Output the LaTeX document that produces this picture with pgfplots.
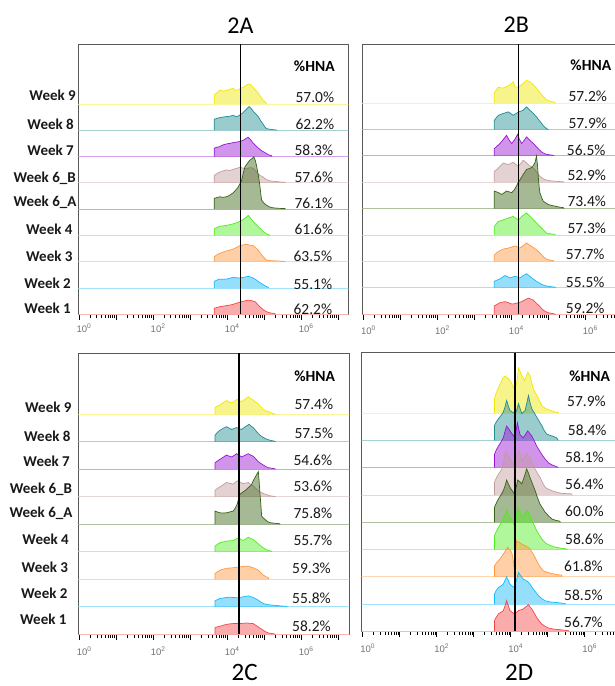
\documentclass[border=0pt]{standalone}
\usepackage{fontspec}
\setmainfont{Carlito}
\newfontfamily\arialf{Liberation Sans}
\usepackage{pgfplots}
\pgfplotsset{compat=1.18}
\definecolor{c9}{RGB}{240,230,0}
\definecolor{c8}{RGB}{30,140,145}
\definecolor{c7}{RGB}{150,20,210}
\definecolor{c6b}{RGB}{195,155,155}
\definecolor{c6a}{RGB}{55,100,20}
\definecolor{c4}{RGB}{80,235,30}
\definecolor{c3}{RGB}{255,150,60}
\definecolor{c2}{RGB}{20,185,250}
\definecolor{c1}{RGB}{245,70,70}
\newcommand{\hist}[3]{\addplot[draw=#1, line width=0.7pt, fill=#1, fill opacity=0.45] table[row sep=\\, y expr=\thisrow{h}+#2] {x h\\ #3\\};}
\newcommand{\base}[2]{\addplot[#1!40, line width=0.9pt] coordinates {(-1,#2) (9,#2)};}
\newcommand{\allbases}{\base{c9}{8}\base{c8}{7}\base{c7}{6}\base{c6b}{5}\base{c6a}{4}\base{c4}{3}\base{c3}{2}\base{c2}{1}\base{c1}{0}}
\pgfplotsset{
  panel/.style={
    scale only axis, anchor=south west, ymin=0,
    axis line style={draw=black!65, line width=0.8pt},
    xtick={0,2,4,6},
    xticklabels={10\textsuperscript{0},10\textsuperscript{2},10\textsuperscript{4},10\textsuperscript{6}},
    extra x ticks={1,3,5,7}, extra x tick labels={},
    minor xtick={0.301,0.477,0.602,0.699,0.778,0.845,0.903,0.954,
      1.301,1.477,1.602,1.699,1.778,1.845,1.903,1.954,
      2.301,2.477,2.602,2.699,2.778,2.845,2.903,2.954,
      3.301,3.477,3.602,3.699,3.778,3.845,3.903,3.954,
      4.301,4.477,4.602,4.699,4.778,4.845,4.903,4.954,
      5.301,5.477,5.602,5.699,5.778,5.845,5.903,5.954,
      6.301,6.477,6.602,6.699,6.778,6.845,6.903,6.954},
    xtick pos=bottom, ytick=\empty, tick align=outside,
    major tick length=5.5pt, minor tick length=3.5pt,
    tick style={draw=black, line width=0.9pt},
    minor tick style={draw=black, line width=0.7pt},
    xticklabel style={font=\arialf\fontsize{9.5}{10}\selectfont, text=black!55, anchor=base, xshift=5pt},
  }
}
\begin{document}
\begin{tikzpicture}
\path[use as bounding box] (0pt,0pt) rectangle (614pt,-686pt);
% ---------------- 2A
\begin{axis}[panel, at={(78.3pt,-314.3pt)}, width=270pt, height=270.3pt,
  xmin=-0.02, xmax=7.27, ymax=10.28, xticklabel style={yshift=-13pt}]
\allbases
\hist{c9}{8}{3.65 0\\3.65 0.34\\3.72 0.42\\3.80 0.53\\3.88 0.49\\3.98 0.51\\4.07 0.56\\4.16 0.59\\4.23 0.52\\4.30 0.53\\4.36 0.60\\4.43 0.63\\4.50 0.70\\4.57 0.76\\4.61 0.75\\4.66 0.70\\4.70 0.63\\4.77 0.52\\4.84 0.41\\4.90 0.28\\4.97 0.15\\5.02 0.08\\5.06 0.03\\5.07 0}
\hist{c8}{7}{3.65 0\\3.65 0.42\\3.72 0.45\\3.80 0.48\\3.88 0.50\\3.98 0.52\\4.07 0.53\\4.16 0.57\\4.23 0.52\\4.30 0.54\\4.36 0.60\\4.43 0.67\\4.52 0.80\\4.59 0.90\\4.64 0.84\\4.70 0.73\\4.77 0.62\\4.84 0.52\\4.90 0.37\\4.97 0.23\\5.02 0.12\\5.06 0.06\\5.15 0.04\\5.25 0.02\\5.33 0.01\\5.34 0}
\hist{c7}{6}{3.65 0\\3.65 0.32\\3.72 0.35\\3.80 0.38\\3.88 0.44\\3.98 0.48\\4.07 0.50\\4.16 0.53\\4.25 0.55\\4.34 0.57\\4.45 0.63\\4.52 0.70\\4.57 0.73\\4.63 0.64\\4.70 0.51\\4.77 0.42\\4.84 0.32\\4.93 0.22\\5.02 0.15\\5.11 0.07\\5.20 0.03\\5.21 0}
\hist{c6b}{5}{3.65 0\\3.65 0.28\\3.72 0.35\\3.80 0.41\\3.88 0.45\\3.98 0.49\\4.07 0.47\\4.16 0.51\\4.25 0.55\\4.34 0.59\\4.43 0.56\\4.52 0.53\\4.61 0.58\\4.70 0.56\\4.77 0.45\\4.84 0.34\\4.90 0.27\\4.97 0.22\\5.04 0.14\\5.11 0.09\\5.22 0.06\\5.33 0.05\\5.45 0.03\\5.56 0.02\\5.57 0}
\hist{c6a}{4}{3.65 0\\3.65 0.41\\3.72 0.44\\3.80 0.47\\3.88 0.45\\3.98 0.47\\4.07 0.53\\4.16 0.62\\4.23 0.72\\4.30 0.85\\4.35 0.98\\4.39 1.10\\4.44 1.40\\4.48 1.61\\4.55 1.75\\4.61 1.86\\4.67 1.92\\4.72 1.99\\4.76 1.85\\4.79 1.67\\4.84 1.30\\4.88 0.91\\4.91 0.55\\4.93 0.34\\5.00 0.22\\5.06 0.15\\5.15 0.08\\5.24 0.05\\5.40 0.03\\5.56 0.02\\5.57 0}
\hist{c4}{3}{3.65 0\\3.65 0.25\\3.72 0.30\\3.80 0.35\\3.88 0.36\\3.98 0.38\\4.07 0.41\\4.16 0.44\\4.25 0.48\\4.34 0.53\\4.45 0.62\\4.52 0.70\\4.57 0.76\\4.63 0.65\\4.70 0.53\\4.79 0.40\\4.88 0.28\\4.97 0.15\\5.06 0.06\\5.15 0.01\\5.16 0}
\hist{c3}{2}{3.65 0\\3.65 0.19\\3.72 0.26\\3.80 0.32\\3.88 0.36\\3.98 0.41\\4.07 0.44\\4.16 0.48\\4.25 0.54\\4.34 0.61\\4.43 0.64\\4.52 0.66\\4.61 0.63\\4.70 0.61\\4.77 0.53\\4.84 0.44\\4.90 0.32\\4.97 0.19\\5.06 0.06\\5.15 0.04\\5.33 0.03\\5.45 0.02\\5.56 0.01\\5.57 0}
\hist{c2}{1}{3.65 0\\3.65 0.25\\3.72 0.30\\3.80 0.34\\3.88 0.33\\3.98 0.34\\4.07 0.37\\4.16 0.41\\4.25 0.39\\4.34 0.38\\4.45 0.41\\4.57 0.44\\4.63 0.42\\4.70 0.38\\4.77 0.32\\4.84 0.25\\4.90 0.19\\4.97 0.13\\5.04 0.07\\5.11 0.03\\5.12 0}
\hist{c1}{0}{3.65 0\\3.65 0.23\\3.72 0.26\\3.80 0.29\\3.88 0.31\\3.98 0.33\\4.07 0.35\\4.16 0.38\\4.25 0.42\\4.34 0.46\\4.45 0.50\\4.57 0.54\\4.66 0.52\\4.75 0.48\\4.82 0.38\\4.88 0.29\\4.97 0.18\\5.06 0.10\\5.17 0.05\\5.29 0.03\\5.30 0}
\addplot[black, line width=1.4pt] coordinates {(4.36,0) (4.36,10.28)};
\end{axis}
% ---------------- 2B
\begin{axis}[panel, at={(362.3pt,-314.3pt)}, width=270pt, height=270pt,
  xmin=-0.03, xmax=7.27, ymax=10.23, xticklabel style={yshift=-15pt}]
\allbases
\hist{c9}{8}{3.54 0\\3.54 0.38\\3.60 0.52\\3.65 0.61\\3.72 0.58\\3.78 0.57\\3.85 0.62\\3.92 0.66\\3.99 0.72\\4.05 0.82\\4.10 0.61\\4.15 0.60\\4.19 0.61\\4.28 0.70\\4.35 0.78\\4.41 0.86\\4.48 0.82\\4.55 0.76\\4.62 0.66\\4.68 0.57\\4.75 0.44\\4.82 0.32\\4.88 0.22\\4.95 0.13\\5.05 0.07\\5.18 0.03\\5.19 0}
\hist{c8}{7}{3.54 0\\3.54 0.35\\3.60 0.46\\3.65 0.54\\3.72 0.58\\3.78 0.61\\3.85 0.64\\3.92 0.67\\3.99 0.60\\4.05 0.54\\4.12 0.60\\4.19 0.67\\4.26 0.70\\4.32 0.73\\4.37 0.80\\4.41 0.86\\4.48 0.76\\4.55 0.67\\4.62 0.57\\4.68 0.48\\4.75 0.35\\4.82 0.23\\4.88 0.12\\4.95 0.04\\5.00 0}
\hist{c7}{6}{3.54 0\\3.54 0.28\\3.62 0.38\\3.69 0.47\\3.78 0.62\\3.87 0.78\\3.94 0.60\\4.01 0.47\\4.09 0.62\\4.17 0.82\\4.22 0.62\\4.28 0.47\\4.35 0.60\\4.41 0.72\\4.48 0.62\\4.55 0.53\\4.62 0.44\\4.68 0.34\\4.75 0.24\\4.82 0.15\\4.88 0.10\\4.95 0.06\\5.05 0.04\\5.14 0.02\\5.15 0}
\hist{c6b}{5}{3.54 0\\3.54 0.42\\3.60 0.48\\3.65 0.54\\3.72 0.64\\3.78 0.73\\3.85 0.70\\3.92 0.67\\3.99 0.72\\4.05 0.76\\4.12 0.68\\4.19 0.61\\4.26 0.72\\4.32 0.84\\4.39 0.76\\4.46 0.67\\4.55 0.58\\4.64 0.48\\4.70 0.35\\4.77 0.23\\4.84 0.15\\4.91 0.10\\5.05 0.06\\5.18 0.04\\5.30 0.03\\5.41 0.02\\5.42 0}
\hist{c6a}{4}{3.54 0\\3.54 0.67\\3.60 0.64\\3.65 0.61\\3.70 0.57\\3.74 0.54\\3.80 0.60\\3.87 0.67\\3.94 0.64\\4.01 0.61\\4.08 0.72\\4.14 0.86\\4.18 0.98\\4.21 1.05\\4.27 1.18\\4.32 1.30\\4.37 1.40\\4.41 1.49\\4.48 1.52\\4.55 1.56\\4.60 1.65\\4.64 1.75\\4.68 2.00\\4.71 1.60\\4.73 1.18\\4.75 0.85\\4.77 0.61\\4.82 0.42\\4.86 0.29\\4.93 0.22\\5.00 0.16\\5.10 0.12\\5.18 0.10\\5.30 0.06\\5.41 0.04\\5.42 0}
\hist{c4}{3}{3.54 0\\3.54 0.33\\3.60 0.44\\3.65 0.52\\3.72 0.55\\3.78 0.58\\3.85 0.61\\3.92 0.65\\3.99 0.68\\4.05 0.71\\4.12 0.64\\4.19 0.58\\4.24 0.64\\4.28 0.71\\4.35 0.78\\4.41 0.84\\4.48 0.75\\4.55 0.65\\4.62 0.55\\4.68 0.46\\4.75 0.36\\4.82 0.27\\4.88 0.17\\4.95 0.08\\5.05 0.05\\5.18 0.03\\5.19 0}
\hist{c3}{2}{3.54 0\\3.54 0.25\\3.60 0.32\\3.65 0.38\\3.72 0.43\\3.78 0.47\\3.85 0.49\\3.92 0.51\\4.01 0.55\\4.10 0.59\\4.17 0.55\\4.23 0.51\\4.32 0.60\\4.41 0.70\\4.48 0.63\\4.55 0.57\\4.62 0.50\\4.68 0.44\\4.75 0.35\\4.82 0.25\\4.88 0.16\\4.95 0.09\\5.05 0.05\\5.14 0.03\\5.15 0}
\hist{c2}{1}{3.54 0\\3.54 0.25\\3.62 0.30\\3.69 0.34\\3.76 0.41\\3.83 0.47\\3.90 0.42\\3.96 0.38\\4.03 0.41\\4.10 0.44\\4.17 0.41\\4.23 0.38\\4.32 0.46\\4.41 0.54\\4.48 0.46\\4.55 0.38\\4.62 0.31\\4.68 0.25\\4.75 0.19\\4.82 0.13\\4.91 0.09\\5.00 0.06\\5.10 0.04\\5.18 0.03\\5.19 0}
\hist{c1}{0}{3.54 0\\3.54 0.32\\3.62 0.38\\3.69 0.44\\3.76 0.46\\3.83 0.48\\3.92 0.44\\4.01 0.39\\4.08 0.40\\4.14 0.42\\4.21 0.45\\4.28 0.48\\4.37 0.55\\4.46 0.61\\4.52 0.58\\4.59 0.54\\4.66 0.44\\4.73 0.35\\4.80 0.25\\4.86 0.16\\4.93 0.10\\5.00 0.06\\5.10 0.03\\5.18 0.01\\5.19 0}
\addplot[black, line width=1.4pt] coordinates {(4.19,0) (4.19,10.23)};
\end{axis}
% ---------------- 2C
\begin{axis}[panel, at={(78.3pt,-634.3pt)}, width=271pt, height=281pt,
  xmin=-0.027, xmax=7.30, ymax=10.22, xticklabel style={yshift=-16pt}]
\allbases
\hist{c9}{8}{3.67 0\\3.67 0.25\\3.73 0.30\\3.80 0.34\\3.89 0.42\\3.98 0.50\\4.05 0.46\\4.12 0.42\\4.20 0.48\\4.27 0.55\\4.33 0.50\\4.39 0.46\\4.48 0.55\\4.57 0.64\\4.63 0.58\\4.70 0.52\\4.77 0.45\\4.84 0.38\\4.90 0.28\\4.97 0.18\\5.04 0.13\\5.11 0.10\\5.20 0.05\\5.29 0.01\\5.30 0}
\hist{c8}{7}{3.67 0\\3.67 0.24\\3.73 0.34\\3.80 0.42\\3.89 0.49\\3.98 0.55\\4.05 0.50\\4.12 0.45\\4.19 0.49\\4.25 0.52\\4.32 0.48\\4.39 0.45\\4.49 0.55\\4.59 0.64\\4.64 0.58\\4.70 0.52\\4.77 0.41\\4.84 0.30\\4.90 0.23\\4.97 0.16\\5.06 0.10\\5.15 0.06\\5.22 0.04\\5.29 0.02\\5.30 0}
\hist{c7}{6}{3.67 0\\3.67 0.24\\3.73 0.30\\3.80 0.36\\3.89 0.44\\3.98 0.52\\4.05 0.48\\4.12 0.45\\4.19 0.51\\4.25 0.57\\4.32 0.51\\4.39 0.45\\4.48 0.51\\4.57 0.57\\4.63 0.52\\4.70 0.48\\4.77 0.38\\4.84 0.28\\4.90 0.22\\4.97 0.16\\5.04 0.10\\5.11 0.06\\5.20 0.04\\5.29 0.02\\5.30 0}
\hist{c6b}{5}{3.67 0\\3.67 0.24\\3.73 0.30\\3.80 0.36\\3.89 0.44\\3.98 0.52\\4.07 0.49\\4.16 0.46\\4.21 0.52\\4.27 0.58\\4.35 0.53\\4.43 0.48\\4.50 0.50\\4.57 0.52\\4.63 0.46\\4.70 0.40\\4.77 0.31\\4.84 0.22\\4.93 0.15\\5.02 0.10\\5.09 0.07\\5.15 0.04\\5.29 0.01\\5.30 0}
\hist{c6a}{4}{3.67 0\\3.67 0.48\\3.73 0.45\\3.80 0.42\\3.89 0.41\\3.98 0.42\\4.07 0.45\\4.16 0.48\\4.22 0.60\\4.27 0.73\\4.31 0.95\\4.34 1.09\\4.43 1.18\\4.52 1.27\\4.59 1.36\\4.66 1.45\\4.70 1.58\\4.75 1.70\\4.80 1.82\\4.84 1.92\\4.86 1.60\\4.88 1.21\\4.91 0.70\\4.93 0.30\\4.97 0.24\\5.02 0.18\\5.09 0.10\\5.15 0.06\\5.28 0.04\\5.42 0.02\\5.43 0}
\hist{c4}{3}{3.67 0\\3.67 0.21\\3.73 0.27\\3.80 0.33\\3.89 0.36\\3.98 0.39\\4.07 0.40\\4.16 0.41\\4.23 0.46\\4.30 0.51\\4.36 0.46\\4.43 0.41\\4.50 0.47\\4.57 0.53\\4.63 0.49\\4.70 0.45\\4.77 0.37\\4.84 0.29\\4.90 0.22\\4.97 0.15\\5.04 0.09\\5.11 0.05\\5.20 0.02\\5.21 0}
\hist{c3}{2}{3.67 0\\3.67 0.21\\3.73 0.27\\3.80 0.33\\3.89 0.37\\3.98 0.40\\4.07 0.41\\4.16 0.42\\4.25 0.44\\4.34 0.45\\4.45 0.47\\4.57 0.48\\4.63 0.45\\4.70 0.42\\4.77 0.38\\4.84 0.33\\4.90 0.25\\4.97 0.16\\5.04 0.10\\5.11 0.06\\5.12 0}
\hist{c2}{1}{3.67 0\\3.67 0.22\\3.73 0.26\\3.80 0.30\\3.89 0.32\\3.98 0.34\\4.07 0.35\\4.16 0.34\\4.25 0.33\\4.34 0.34\\4.45 0.37\\4.57 0.40\\4.63 0.37\\4.70 0.34\\4.77 0.29\\4.84 0.24\\4.90 0.18\\4.97 0.12\\5.06 0.09\\5.15 0.07\\5.24 0.06\\5.33 0.05\\5.45 0.03\\5.60 0.02\\5.61 0}
\hist{c1}{0}{3.67 0\\3.67 0.24\\3.73 0.27\\3.80 0.29\\3.89 0.33\\3.98 0.36\\4.07 0.38\\4.16 0.39\\4.25 0.39\\4.34 0.39\\4.43 0.40\\4.52 0.41\\4.61 0.40\\4.70 0.39\\4.77 0.33\\4.84 0.27\\4.90 0.21\\4.97 0.15\\5.04 0.09\\5.11 0.05\\5.20 0.03\\5.29 0.01\\5.30 0}
\addplot[black, line width=1.4pt] coordinates {(4.32,0) (4.32,10.22)};
\end{axis}
% ---------------- 2D
\begin{axis}[panel, at={(361.7pt,-631.3pt)}, width=270pt, height=278.6pt,
  xmin=-0.027, xmax=7.27, ymax=10.22, xticklabel style={yshift=-16pt}]
\allbases
\hist{c9}{8}{3.56 0\\3.56 0.53\\3.61 0.75\\3.67 0.95\\3.74 1.15\\3.80 1.32\\3.85 1.35\\3.89 1.32\\3.94 1.26\\3.98 1.20\\4.03 1.08\\4.07 0.95\\4.12 1.00\\4.16 1.08\\4.19 1.40\\4.21 1.66\\4.26 1.52\\4.30 1.38\\4.34 1.28\\4.37 1.20\\4.42 1.35\\4.46 1.50\\4.52 1.38\\4.57 1.12\\4.61 0.89\\4.67 0.74\\4.73 0.59\\4.79 0.42\\4.84 0.28\\4.90 0.21\\4.97 0.16\\5.06 0.11\\5.15 0.07\\5.22 0.04\\5.29 0.02\\5.30 0}
\hist{c8}{7}{3.56 0\\3.56 0.55\\3.61 0.68\\3.67 0.80\\3.74 0.92\\3.80 1.04\\3.85 1.25\\3.89 1.47\\3.94 1.25\\3.98 1.10\\4.05 1.04\\4.12 0.98\\4.17 1.15\\4.21 1.35\\4.26 1.15\\4.30 0.98\\4.34 1.04\\4.39 1.10\\4.44 1.40\\4.48 1.65\\4.52 1.40\\4.57 1.16\\4.64 1.01\\4.70 0.86\\4.77 0.70\\4.84 0.55\\4.90 0.38\\4.97 0.24\\5.06 0.19\\5.15 0.15\\5.20 0.12\\5.24 0.10\\5.28 0.02\\5.29 0}
\hist{c7}{6}{3.56 0\\3.56 0.49\\3.61 0.65\\3.67 0.80\\3.74 0.95\\3.80 1.10\\3.85 1.35\\3.89 1.53\\3.94 1.44\\3.98 1.35\\4.05 1.22\\4.12 1.10\\4.15 1.40\\4.18 1.65\\4.22 1.40\\4.25 1.22\\4.30 1.15\\4.34 1.10\\4.40 1.22\\4.46 1.35\\4.52 1.25\\4.57 1.16\\4.64 0.98\\4.70 0.80\\4.77 0.64\\4.84 0.49\\4.93 0.32\\5.02 0.18\\5.11 0.11\\5.20 0.06\\5.27 0.02\\5.28 0}
\hist{c6b}{5}{3.56 0\\3.56 0.46\\3.61 0.62\\3.67 0.77\\3.76 0.95\\3.81 1.25\\3.86 1.57\\3.90 1.48\\3.95 1.38\\4.01 1.25\\4.07 1.14\\4.14 1.38\\4.21 1.63\\4.26 1.45\\4.30 1.26\\4.37 1.40\\4.43 1.53\\4.52 1.38\\4.59 1.16\\4.66 0.95\\4.72 0.80\\4.79 0.65\\4.86 0.46\\4.93 0.28\\5.02 0.21\\5.11 0.16\\5.24 0.10\\5.38 0.06\\5.52 0.05\\5.65 0.04\\5.66 0}
\hist{c6a}{4}{3.56 0\\3.56 0.55\\3.61 0.70\\3.67 0.86\\3.74 1.01\\3.80 1.16\\3.85 1.35\\3.89 1.55\\3.94 1.40\\3.98 1.28\\4.04 1.16\\4.10 1.04\\4.15 1.30\\4.19 1.55\\4.25 1.48\\4.30 1.41\\4.37 1.68\\4.43 1.96\\4.48 1.80\\4.52 1.65\\4.59 1.40\\4.66 1.16\\4.72 0.92\\4.79 0.67\\4.86 0.52\\4.93 0.37\\5.02 0.24\\5.11 0.12\\5.22 0.07\\5.33 0.04\\5.34 0}
\hist{c4}{3}{3.56 0\\3.56 0.51\\3.61 0.66\\3.67 0.82\\3.74 0.97\\3.80 1.13\\3.85 1.28\\3.89 1.43\\3.94 1.30\\3.98 1.19\\4.04 1.03\\4.10 0.88\\4.15 1.20\\4.19 1.55\\4.25 1.37\\4.30 1.19\\4.38 1.31\\4.46 1.43\\4.52 1.24\\4.57 1.06\\4.64 0.88\\4.70 0.70\\4.77 0.54\\4.84 0.39\\4.90 0.30\\4.97 0.21\\5.08 0.14\\5.20 0.09\\5.35 0.05\\5.51 0.02\\5.52 0}
\hist{c3}{2}{3.56 0\\3.56 0.40\\3.61 0.50\\3.67 0.59\\3.74 0.71\\3.80 0.83\\3.86 0.96\\3.92 1.08\\3.98 0.98\\4.03 0.89\\4.07 0.60\\4.10 0.28\\4.13 0.90\\4.16 1.32\\4.23 1.26\\4.30 1.20\\4.39 1.14\\4.48 1.08\\4.55 0.96\\4.61 0.83\\4.68 0.65\\4.75 0.46\\4.82 0.32\\4.88 0.22\\5.00 0.16\\5.11 0.12\\5.25 0.08\\5.38 0.06\\5.39 0}
\hist{c2}{1}{3.56 0\\3.56 0.37\\3.61 0.50\\3.67 0.61\\3.74 0.67\\3.80 0.73\\3.85 0.88\\3.89 1.00\\3.94 0.85\\3.98 0.73\\4.04 0.66\\4.10 0.61\\4.16 0.90\\4.21 1.16\\4.28 1.02\\4.34 0.92\\4.41 0.86\\4.48 0.80\\4.55 0.67\\4.61 0.55\\4.68 0.43\\4.75 0.31\\4.84 0.20\\4.93 0.12\\5.06 0.08\\5.20 0.06\\5.33 0.04\\5.47 0.02\\5.48 0}
\hist{c1}{0}{3.56 0\\3.56 0.39\\3.61 0.52\\3.67 0.64\\3.74 0.70\\3.80 0.76\\3.85 0.95\\3.89 1.13\\3.94 0.92\\3.98 0.76\\4.04 0.70\\4.10 0.64\\4.16 0.70\\4.21 0.76\\4.28 0.79\\4.34 0.82\\4.41 0.90\\4.48 0.98\\4.52 0.90\\4.57 0.82\\4.64 0.66\\4.70 0.51\\4.77 0.38\\4.84 0.27\\4.93 0.18\\5.02 0.12\\5.17 0.08\\5.33 0.06\\5.45 0.04\\5.56 0.02\\5.57 0}
\addplot[black, line width=1.4pt] coordinates {(4.12,0) (4.12,10.22)};
\end{axis}
% ---------------- titles
\node[font=\fontsize{24}{24}\selectfont, anchor=base] at (240.5pt,-33.3pt) {2A};
\node[font=\fontsize{24}{24}\selectfont, anchor=base] at (516.3pt,-32.7pt) {2B};
\node[font=\fontsize{25}{25}\selectfont, anchor=base, inner sep=0pt] at (244.7pt,-680pt) {2C};
\node[font=\fontsize{25}{25}\selectfont, anchor=base, inner sep=0pt] at (519.2pt,-680pt) {2D};
% ---------------- %HNA
\begin{scope}[every node/.style={font=\fontsize{15.5}{16}\selectfont\bfseries, anchor=base, inner sep=0pt}]
\node at (314.3pt,-71.7pt) {\%HNA};
\node at (590.8pt,-70pt) {\%HNA};
\node at (314.7pt,-381.7pt) {\%HNA};
\node at (589.7pt,-381.7pt) {\%HNA};
\end{scope}
% ---------------- week labels
\begin{scope}[every node/.style={font=\fontsize{15}{16}\selectfont\bfseries, anchor=base east, inner sep=0pt, text=black!90}]
\node at (76pt,-100.8pt) {Week 9};
\node at (74pt,-129.8pt) {Week 8};
\node at (74pt,-155.8pt) {Week 7};
\node at (76pt,-182.1pt) {Week 6\_B};
\node at (76.7pt,-206.5pt) {Week 6\_A};
\node at (72.7pt,-234.1pt) {Week 4};
\node at (72.7pt,-261.5pt) {Week 3};
\node at (71pt,-288.1pt) {Week 2};
\node at (71pt,-313.1pt) {Week 1};
\node at (71.7pt,-412.1pt) {Week 9};
\node at (70.7pt,-441.5pt) {Week 8};
\node at (70pt,-466.5pt) {Week 7};
\node at (72.3pt,-493.1pt) {Week 6\_B};
\node at (72.7pt,-517.5pt) {Week 6\_A};
\node at (69pt,-544.8pt) {Week 4};
\node at (68.3pt,-572.1pt) {Week 3};
\node at (67.7pt,-598.8pt) {Week 2};
\node at (66.7pt,-624.1pt) {Week 1};
\end{scope}
% ---------------- percentages
\begin{scope}[every node/.style={font=\fontsize{15.5}{16}\selectfont, anchor=base east, inner sep=0pt, text=black!90}]
\node at (334.3pt,-102.3pt) {57.0\%};
\node at (334.3pt,-129.5pt) {62.2\%};
\node at (333.3pt,-155.7pt) {58.3\%};
\node at (333.3pt,-182.3pt) {57.6\%};
\node at (333.3pt,-208.3pt) {76.1\%};
\node at (333.3pt,-234.3pt) {61.6\%};
\node at (332.3pt,-261pt) {63.5\%};
\node at (332.3pt,-289pt) {55.1\%};
\node at (332.3pt,-314pt) {62.2\%};
\node at (333.3pt,-409pt) {57.4\%};
\node at (333.3pt,-438.3pt) {57.5\%};
\node at (332.3pt,-465pt) {54.6\%};
\node at (332.3pt,-491.7pt) {53.6\%};
\node at (332.3pt,-518.3pt) {75.8\%};
\node at (332.3pt,-545.7pt) {55.7\%};
\node at (331pt,-573.7pt) {59.3\%};
\node at (331pt,-603.3pt) {55.8\%};
\node at (331pt,-631pt) {58.2\%};
\end{scope}
\begin{scope}[every node/.style={font=\fontsize{15.5}{16}\selectfont, anchor=base west, inner sep=0pt, text=black!90}]
\node at (568.3pt,-101.7pt) {57.2\%};
\node at (568.3pt,-128.3pt) {57.9\%};
\node at (566.7pt,-155pt) {56.5\%};
\node at (567.3pt,-180.7pt) {52.9\%};
\node at (567.3pt,-206.7pt) {73.4\%};
\node at (567.3pt,-233.3pt) {57.3\%};
\node at (565.7pt,-259pt) {57.7\%};
\node at (565.7pt,-287.7pt) {55.5\%};
\node at (565.7pt,-313.3pt) {59.2\%};
\node at (567pt,-406.7pt) {57.9\%};
\node at (567.7pt,-435pt) {58.4\%};
\node at (565pt,-462.3pt) {58.1\%};
\node at (565pt,-489.3pt) {56.4\%};
\node at (565pt,-516.7pt) {60.0\%};
\node at (565pt,-544.3pt) {58.6\%};
\node at (564pt,-571pt) {61.8\%};
\node at (564pt,-600pt) {58.5\%};
\node at (564pt,-627.7pt) {56.7\%};
\end{scope}
\end{tikzpicture}
\end{document}
